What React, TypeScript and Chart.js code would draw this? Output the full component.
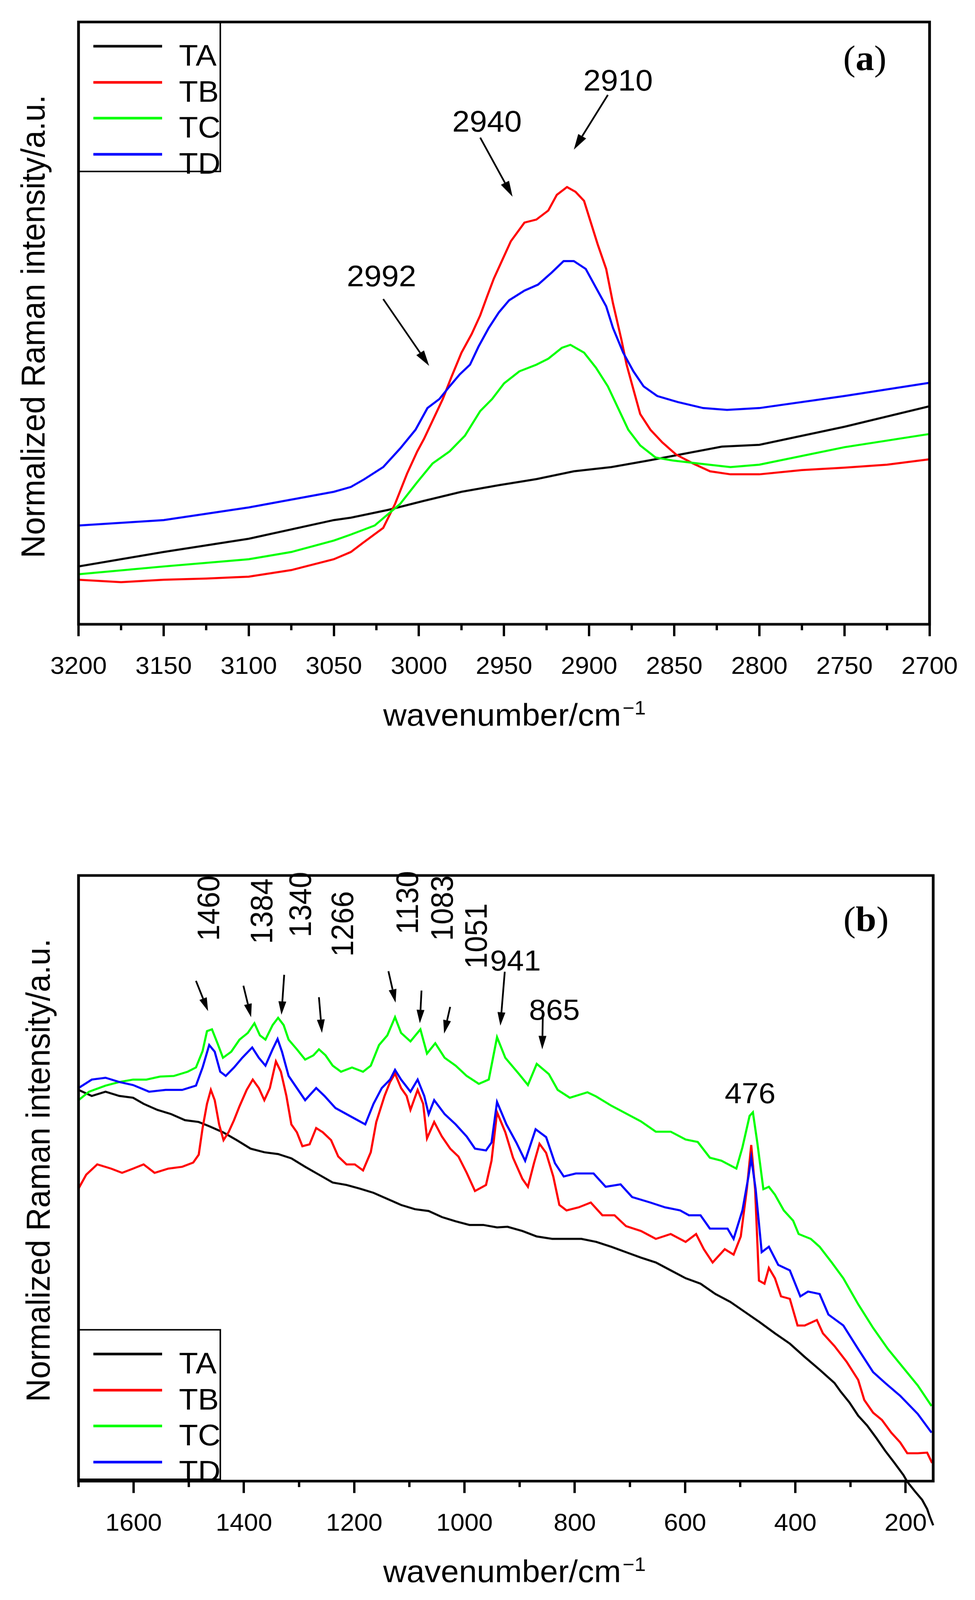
import { useEffect, useRef, useState } from "react"
import Chart from "chart.js/auto"

// ── Theme ───────────────────────────────────────────────────
const SANS  = "'Liberation Sans', Arial, sans-serif"
const SERIF = "'Liberation Serif', 'Times New Roman', serif"
const INK   = "#000000"
const RED   = "#ff0000"
const GREEN = "#00ff00"
const BLUE  = "#0000ff"

const PAGE_W = 2496
const PAGE_H = 4293
const TOP_H  = 2146
const BOT_H  = PAGE_H - TOP_H

const SERIES = ["TA", "TB", "TC", "TD"]
const COLORS = [INK, RED, GREEN, BLUE]

// ── Panel (a) · 3200–2700 cm-1 ──────────────────────────────
const A_TICKS = [3200, 3150, 3100, 3050, 3000, 2950, 2900, 2850, 2800, 2750, 2700]
const A_MINOR = [3175, 3125, 3075, 3025, 2975, 2925, 2875, 2825, 2775, 2725]

const A_TA_X = [3200, 3150, 3100, 3050, 3040, 3018, 2997, 2975, 2953, 2931, 2909, 2887, 2865, 2850, 2822, 2800, 2750, 2700]
const A_TA_Y = [9.6, 12.0, 14.2, 17.3, 17.7, 19.0, 20.5, 22.0, 23.1, 24.1, 25.4, 26.1, 27.2, 28.0, 29.5, 29.8, 32.8, 36.2]

const A_TB_X = [3200, 3175, 3150, 3125, 3100, 3075, 3050, 3040, 3033, 3021, 3014, 3007, 3001, 2997, 2992, 2986, 2981, 2975, 2969, 2964, 2960, 2956, 2951, 2946, 2938, 2931, 2924, 2919, 2913, 2908, 2903, 2899, 2895, 2890, 2886, 2881, 2878, 2874, 2870, 2864, 2857, 2849, 2839, 2829, 2817, 2800, 2775, 2750, 2725, 2700]
const A_TB_Y = [7.4, 7.0, 7.4, 7.6, 7.9, 9.0, 10.8, 12.0, 13.5, 16.0, 20.0, 25.0, 28.7, 30.8, 33.8, 37.4, 41.0, 45.1, 48.2, 51.3, 54.4, 57.4, 60.5, 63.6, 66.7, 67.2, 68.7, 71.3, 72.6, 71.8, 70.3, 66.7, 63.1, 59.0, 53.3, 47.2, 43.1, 39.0, 34.9, 32.3, 30.2, 28.2, 26.7, 25.4, 24.9, 24.9, 25.6, 26.0, 26.5, 27.4]

const A_TC_X = [3200, 3150, 3100, 3075, 3050, 3040, 3026, 3011, 3001, 2992, 2982, 2973, 2964, 2957, 2950, 2941, 2931, 2924, 2916, 2911, 2903, 2896, 2889, 2883, 2877, 2870, 2861, 2851, 2836, 2817, 2800, 2750, 2700]
const A_TC_Y = [8.3, 9.6, 10.8, 12.0, 13.9, 14.9, 16.4, 20.0, 23.6, 26.7, 28.7, 31.3, 35.4, 37.4, 40.0, 42.0, 43.1, 44.1, 45.9, 46.4, 45.1, 42.6, 39.5, 35.9, 32.3, 29.7, 27.7, 27.2, 26.7, 26.1, 26.5, 29.4, 31.6]

const A_TD_X = [3200, 3150, 3100, 3050, 3040, 3032, 3021, 3011, 3002, 2995, 2988, 2982, 2976, 2970, 2965, 2959, 2953, 2947, 2938, 2930, 2922, 2915, 2909, 2902, 2896, 2890, 2886, 2880, 2874, 2868, 2860, 2848, 2833, 2819, 2800, 2750, 2700]
const A_TD_Y = [16.4, 17.3, 19.4, 22.0, 22.8, 24.1, 26.1, 29.2, 32.3, 35.9, 37.4, 39.5, 41.5, 43.1, 46.1, 49.2, 51.8, 53.8, 55.4, 56.4, 58.4, 60.3, 60.3, 59.0, 55.9, 52.8, 49.2, 45.1, 42.0, 39.5, 37.9, 36.9, 35.9, 35.6, 35.9, 37.9, 40.1]

const A_NOTES   = ["2910", "2940", "2992"]
const A_NOTE_X  = [2883, 2960, 3022]
const A_NOTE_Y  = [88.6, 81.8, 56.1]
const A_FROM_X  = [2889, 2964, 3021]
const A_FROM_Y  = [87.9, 80.8, 54.0]
const A_TO_X    = [2909, 2945, 2994]
const A_TO_Y    = [78.8, 71.0, 42.9]

// ── Panel (b) · 1700–150 cm-1 ───────────────────────────────
const B_TICKS = [1600, 1400, 1200, 1000, 800, 600, 400, 200]
const B_MINOR = [1700, 1500, 1300, 1100, 900, 700, 500, 300]

const B_TA_X = [1700, 1676, 1651, 1626, 1601, 1582, 1557, 1532, 1507, 1482, 1463, 1438, 1413, 1388, 1363, 1338, 1314, 1289, 1264, 1239, 1214, 1190, 1165, 1140, 1115, 1090, 1065, 1041, 1016, 991, 966, 941, 922, 895, 869, 841, 815, 788, 761, 734, 707, 680, 653, 626, 599, 572, 545, 518, 491, 464, 437, 410, 383, 356, 329, 318, 302, 286, 270, 253, 237, 221, 204, 197, 183, 170, 161, 156, 150]
const B_TA_Y = [64.6, 63.6, 64.3, 63.6, 63.3, 62.3, 61.3, 60.6, 59.6, 59.3, 58.6, 57.6, 56.3, 54.9, 54.3, 54.0, 53.3, 51.9, 50.6, 49.3, 48.9, 48.3, 47.6, 46.6, 45.6, 44.9, 44.6, 43.6, 42.9, 42.3, 42.3, 41.9, 42.0, 41.3, 40.4, 40.0, 40.0, 40.0, 39.5, 38.7, 37.8, 36.9, 36.1, 34.8, 33.5, 32.6, 30.9, 29.6, 27.9, 26.2, 24.4, 22.7, 20.5, 18.4, 16.2, 14.8, 13.0, 10.8, 9.2, 7.1, 5.0, 3.1, 1.0, -0.1, -1.7, -3.1, -4.6, -5.9, -7.3]

const B_TB_X = [1700, 1686, 1666, 1641, 1621, 1601, 1582, 1562, 1537, 1512, 1492, 1482, 1475, 1467, 1460, 1453, 1445, 1437, 1428, 1418, 1408, 1395, 1384, 1373, 1363, 1353, 1342, 1333, 1323, 1314, 1304, 1294, 1281, 1269, 1257, 1242, 1229, 1214, 1199, 1184, 1170, 1160, 1145, 1135, 1126, 1115, 1105, 1098, 1085, 1075, 1068, 1055, 1041, 1026, 1011, 996, 981, 961, 951, 941, 926, 912, 895, 885, 874, 864, 852, 839, 828, 815, 793, 771, 750, 728, 707, 680, 653, 626, 599, 580, 566, 550, 528, 512, 499, 488, 480, 473, 466, 456, 448, 437, 426, 410, 396, 383, 361, 350, 329, 307, 286, 275, 259, 243, 226, 210, 197, 178, 161, 152]
const B_TB_Y = [48.3, 50.6, 52.3, 51.6, 50.9, 51.6, 52.3, 50.9, 51.6, 51.9, 52.6, 53.9, 58.3, 62.3, 64.6, 62.9, 58.9, 56.3, 57.6, 59.6, 61.9, 64.6, 66.3, 64.9, 62.9, 64.9, 69.3, 67.6, 63.6, 58.9, 57.6, 55.3, 55.6, 58.3, 57.6, 56.3, 53.6, 52.3, 52.3, 51.3, 54.3, 59.3, 63.6, 65.9, 67.3, 64.9, 63.6, 61.3, 64.6, 62.3, 56.6, 59.3, 56.9, 54.9, 53.6, 50.9, 47.9, 48.9, 52.9, 60.9, 57.6, 53.4, 49.9, 48.6, 52.5, 55.7, 54.2, 50.3, 45.6, 44.7, 45.2, 46.0, 43.9, 43.9, 42.1, 41.3, 40.0, 40.8, 39.5, 40.8, 38.3, 36.1, 38.3, 37.4, 40.4, 48.2, 55.5, 48.2, 33.1, 32.6, 35.2, 33.5, 30.5, 30.1, 25.7, 25.7, 26.6, 24.4, 22.3, 19.7, 16.7, 13.4, 11.3, 10.1, 8.0, 6.4, 4.6, 4.6, 4.7, 3.0]

const B_TC_X = [1700, 1681, 1651, 1626, 1601, 1577, 1552, 1527, 1502, 1487, 1475, 1467, 1458, 1448, 1438, 1423, 1408, 1393, 1381, 1371, 1361, 1348, 1338, 1328, 1319, 1304, 1289, 1274, 1264, 1252, 1239, 1224, 1204, 1184, 1170, 1155, 1140, 1126, 1115, 1098, 1080, 1068, 1053, 1036, 1016, 996, 974, 956, 941, 926, 901, 885, 869, 847, 831, 809, 777, 761, 734, 707, 680, 653, 626, 599, 577, 555, 534, 507, 496, 483, 477, 469, 458, 448, 437, 421, 404, 394, 372, 356, 334, 313, 286, 259, 232, 205, 178, 153]
const B_TC_Y = [62.9, 64.3, 65.3, 65.9, 66.3, 66.3, 66.8, 66.9, 67.6, 68.3, 71.0, 74.3, 74.6, 72.3, 69.9, 70.9, 72.9, 74.0, 75.6, 73.6, 72.9, 75.3, 76.5, 75.3, 72.9, 71.3, 69.6, 70.3, 71.3, 70.3, 68.6, 67.6, 68.3, 67.6, 68.6, 72.0, 73.6, 76.6, 74.0, 72.6, 74.6, 70.6, 72.3, 69.9, 68.6, 66.9, 65.6, 66.3, 73.3, 69.9, 67.2, 65.4, 68.9, 67.2, 64.6, 63.3, 64.2, 63.5, 62.0, 60.7, 59.4, 57.7, 57.7, 56.4, 56.0, 53.4, 52.9, 51.6, 55.1, 60.3, 60.9, 55.9, 48.2, 48.6, 47.3, 44.7, 43.0, 40.8, 40.0, 38.7, 36.1, 33.5, 29.2, 25.3, 21.8, 18.8, 15.8, 12.4]

const B_TD_X = [1700, 1676, 1651, 1626, 1601, 1572, 1542, 1512, 1487, 1475, 1463, 1453, 1443, 1433, 1418, 1403, 1385, 1373, 1361, 1348, 1339, 1331, 1319, 1304, 1289, 1269, 1254, 1234, 1214, 1194, 1180, 1165, 1150, 1135, 1126, 1115, 1098, 1085, 1073, 1065, 1055, 1036, 1016, 996, 981, 961, 951, 941, 924, 906, 890, 871, 852, 836, 820, 798, 766, 744, 717, 696, 663, 636, 609, 593, 572, 555, 523, 512, 496, 485, 480, 472, 461, 448, 431, 410, 391, 377, 356, 340, 313, 286, 259, 237, 210, 178, 153]
const B_TD_Y = [64.9, 66.3, 66.6, 65.9, 65.4, 64.3, 64.6, 64.6, 65.3, 68.3, 72.0, 70.9, 67.6, 66.9, 68.3, 69.9, 71.6, 69.9, 68.6, 71.3, 73.0, 70.9, 66.9, 64.9, 62.9, 64.9, 63.6, 61.6, 60.6, 59.6, 58.9, 62.3, 64.9, 66.3, 67.9, 66.3, 64.3, 66.3, 63.6, 60.6, 62.9, 60.6, 58.9, 56.9, 54.9, 54.6, 55.9, 62.6, 58.9, 55.9, 52.9, 58.1, 56.8, 52.5, 50.3, 50.8, 50.8, 48.6, 49.0, 46.9, 46.0, 45.2, 44.7, 43.9, 43.9, 41.7, 41.7, 40.0, 44.7, 50.3, 53.4, 48.2, 37.8, 38.7, 35.7, 34.8, 30.5, 31.3, 30.9, 27.5, 25.7, 21.8, 18.0, 16.2, 14.1, 11.1, 8.0]

// peak labels: rotated ones read bottom-to-top, the rest horizontal
const B_ROT   = ["1460", "1384", "1340", "1266", "1130", "1083", "1051"]
const B_ROT_X = [1460.2, 1364.0, 1293.9, 1217.5, 1100.1, 1037.1, 974.9]
const B_ROT_Y = [89.2, 88.7, 89.8, 86.6, 90.3, 89.2, 84.6]
const B_NOTES  = ["941", "865", "476"]
const B_NOTE_X = [907.6, 836.9, 482]
const B_NOTE_Y = [84.3, 76.2, 62.4]
const B_FROM_X = [1487, 1401, 1327, 1264, 1138, 1078, 1026, 927, 858]
const B_FROM_Y = [82.6, 81.8, 83.6, 79.9, 84.2, 81.0, 78.3, 84.1, 76.7]
const B_TO_X   = [1465, 1387, 1332, 1258.5, 1125, 1081, 1037, 935, 859]
const B_TO_Y   = [77.6, 76.6, 77.0, 74.0, 79.0, 75.6, 73.9, 75.2, 71.3]

type Deco = {
  minor: number[]
  notes: string[]; noteX: number[]; noteY: number[]; noteSize: number; rotSize: number
  rot: string[]; rotX: number[]; rotY: number[]
  fromX: number[]; fromY: number[]; toX: number[]; toY: number[]
  head: number
  legendTop: number
  tag: string; tagX: number; tagBase: number
  yTitleX: number; yTitleY: number; xTitleBase: number; xTitleX: number
}

function drawArrow(ctx: CanvasRenderingContext2D, x1: number, y1: number, x2: number, y2: number, head: number) {
  const ang = Math.atan2(y2 - y1, x2 - x1)
  const bx = x2 - Math.cos(ang) * head
  const by = y2 - Math.sin(ang) * head
  ctx.beginPath()
  ctx.moveTo(x1, y1)
  ctx.lineTo(bx, by)
  ctx.stroke()
  const w = head * 0.28
  ctx.beginPath()
  ctx.moveTo(x2, y2)
  ctx.lineTo(bx + Math.sin(ang) * w, by - Math.cos(ang) * w)
  ctx.lineTo(bx - Math.sin(ang) * w, by + Math.cos(ang) * w)
  ctx.closePath()
  ctx.fill()
}

// frame, minor ticks, legend, titles and peak labels
function decorPlugin(d: Deco) {
  return {
    id: "decor",
    afterDraw(chart: any) {
      const { ctx, chartArea: a, scales } = chart
      const sx = scales.x, sy = scales.y
      ctx.save()
      ctx.fillStyle = INK
      ctx.strokeStyle = INK

      // box frame
      ctx.lineWidth = 7
      ctx.strokeRect(a.left, a.top, a.right - a.left, a.bottom - a.top)

      // minor ticks
      ctx.lineWidth = 6
      for (const v of d.minor) {
        const px = sx.getPixelForValue(v)
        ctx.beginPath()
        ctx.moveTo(px, a.bottom)
        ctx.lineTo(px, a.bottom + 16)
        ctx.stroke()
      }

      // legend
      const lt = d.legendTop
      ctx.lineWidth = 4
      ctx.strokeRect(a.left, lt, 564 - a.left, 401)
      const rows = [65, 162, 258, 355]
      ctx.font = `80px ${SANS}`
      ctx.textAlign = "left"
      ctx.textBaseline = "alphabetic"
      SERIES.forEach((s, i) => {
        const ry = lt + rows[i]
        ctx.strokeStyle = COLORS[i]
        ctx.lineWidth = 7
        ctx.beginPath()
        ctx.moveTo(239, ry)
        ctx.lineTo(415, ry)
        ctx.stroke()
        ctx.fillText(s, 458, ry + 52)
      })
      ctx.strokeStyle = INK

      // arrows
      ctx.lineWidth = 4.5
      d.fromX.forEach((_, i) => {
        drawArrow(ctx,
          sx.getPixelForValue(d.fromX[i]), sy.getPixelForValue(d.fromY[i]),
          sx.getPixelForValue(d.toX[i]), sy.getPixelForValue(d.toY[i]), d.head)
      })

      // horizontal peak labels
      ctx.font = `${d.noteSize}px ${SANS}`
      ctx.textAlign = "center"
      ctx.textBaseline = "alphabetic"
      d.notes.forEach((t, i) => {
        ctx.fillText(t, sx.getPixelForValue(d.noteX[i]), sy.getPixelForValue(d.noteY[i]))
      })

      // rotated peak labels
      ctx.font = `${d.rotSize}px ${SANS}`
      ctx.textAlign = "left"
      ctx.textBaseline = "middle"
      d.rot.forEach((t, i) => {
        ctx.save()
        ctx.translate(sx.getPixelForValue(d.rotX[i]), sy.getPixelForValue(d.rotY[i]))
        ctx.rotate(-Math.PI / 2)
        ctx.fillText(t, 0, 0)
        ctx.restore()
      })

      // panel tag "(a)" / "(b)"
      const reg = `95px ${SERIF}`
      const bold = `bold 95px ${SERIF}`
      ctx.textAlign = "left"
      ctx.textBaseline = "alphabetic"
      ctx.font = reg
      const wp = ctx.measureText("(").width
      const wq = ctx.measureText(")").width
      ctx.font = bold
      const wb = ctx.measureText(d.tag).width
      let tx = d.tagX - (wp + wb + wq) / 2
      ctx.font = reg; ctx.fillText("(", tx, d.tagBase); tx += wp
      ctx.font = bold; ctx.fillText(d.tag, tx, d.tagBase); tx += wb
      ctx.font = reg; ctx.fillText(")", tx, d.tagBase)

      // x title with superscript
      const main = "wavenumber/cm"
      const sup = "\u22121"
      ctx.font = `83px ${SANS}`
      const w1 = ctx.measureText(main).width
      ctx.font = `52px ${SANS}`
      const w2 = ctx.measureText(sup).width
      const x0 = d.xTitleX - (w1 + w2 + 4) / 2
      ctx.font = `83px ${SANS}`
      ctx.fillText(main, x0, d.xTitleBase)
      ctx.font = `52px ${SANS}`
      ctx.fillText(sup, x0 + w1 + 4, d.xTitleBase - 30)

      // y title
      ctx.save()
      ctx.translate(d.yTitleX, d.yTitleY)
      ctx.rotate(-Math.PI / 2)
      ctx.font = `86px ${SANS}`
      ctx.textAlign = "center"
      ctx.textBaseline = "middle"
      ctx.fillText("Normalized Raman intensity/a.u.", 0, 0)
      ctx.restore()

      ctx.restore()
    },
  }
}

function line(i: number, xs: number[], ys: number[], noClip = false) {
  return {
    label: SERIES[i],
    data: xs.map((x, k) => ({ x, y: ys[k] })),
    borderColor: COLORS[i],
    backgroundColor: COLORS[i],
    borderWidth: 5.5,
    pointRadius: 0,
    tension: 0,
    fill: false,
    order: 3 - i,
    ...(noClip ? { clip: false } : {}),
  }
}

function panelConfig(opts: {
  datasets: any[]; min: number; max: number; ticks: number[]
  padTop: number; axisH: number; deco: Deco
}) {
  return {
    type: "line" as const,
    data: { datasets: opts.datasets },
    options: {
      animation: false as const,
      responsive: false,
      devicePixelRatio: 1,
      events: [],
      layout: { padding: { left: 201, right: 107, top: opts.padTop, bottom: 0 } },
      plugins: { legend: { display: false }, tooltip: { enabled: false } },
      scales: {
        x: {
          type: "linear" as const,
          reverse: true,
          min: opts.min,
          max: opts.max,
          afterBuildTicks: (s: any) => { s.ticks = opts.ticks.map(v => ({ value: v })) },
          afterFit: (s: any) => { s.height = opts.axisH },
          ticks: {
            color: INK,
            font: { family: SANS, size: 65 },
            padding: 44,
            maxRotation: 0,
            autoSkip: false,
            callback: (v: any) => String(v),
          },
          grid: {
            display: true,
            drawOnChartArea: false,
            drawTicks: true,
            tickLength: 32,
            tickWidth: 6,
            lineWidth: 6,
            tickColor: INK,
            color: INK,
          },
          border: { display: false },
        },
        y: { display: false, min: 0, max: 100 },
      },
    },
    plugins: [decorPlugin(opts.deco)],
  }
}

function Panel({ height, build }: { height: number; build: () => any }) {
  const ref = useRef<HTMLCanvasElement>(null)
  useEffect(() => {
    if (!ref.current) return
    const chart = new Chart(ref.current, build())
    return () => chart.destroy()
  }, [])
  return <canvas ref={ref} width={PAGE_W} height={height} style={{ display: "block" }} />
}

const buildA = () => panelConfig({
  datasets: [
    line(0, A_TA_X, A_TA_Y),
    line(1, A_TB_X, A_TB_Y),
    line(2, A_TC_X, A_TC_Y),
    line(3, A_TD_X, A_TD_Y),
  ],
  min: 2700, max: 3200, ticks: A_TICKS,
  padTop: 59, axisH: TOP_H - 1675,
  deco: {
    minor: A_MINOR,
    notes: A_NOTES, noteX: A_NOTE_X, noteY: A_NOTE_Y, noteSize: 80, rotSize: 80,
    rot: [], rotX: [], rotY: [],
    fromX: A_FROM_X, fromY: A_FROM_Y, toX: A_TO_X, toY: A_TO_Y,
    head: 42,
    legendTop: 59,
    tag: "a", tagX: 2214, tagBase: 188,
    yTitleX: 90, yTitleY: 876, xTitleBase: 1947, xTitleX: 1317,
  },
})

const buildB = () => panelConfig({
  datasets: [
    line(0, B_TA_X, B_TA_Y, true),
    line(1, B_TB_X, B_TB_Y),
    line(2, B_TC_X, B_TC_Y),
    line(3, B_TD_X, B_TD_Y),
  ],
  min: 150, max: 1700, ticks: B_TICKS,
  padTop: 2349 - TOP_H, axisH: BOT_H - (3974 - TOP_H),
  deco: {
    minor: B_MINOR,
    notes: B_NOTES, noteX: B_NOTE_X, noteY: B_NOTE_Y, noteSize: 78, rotSize: 79,
    rot: B_ROT, rotX: B_ROT_X, rotY: B_ROT_Y,
    fromX: B_FROM_X, fromY: B_FROM_Y, toX: B_TO_X, toY: B_TO_Y,
    head: 36,
    legendTop: 3568 - TOP_H,
    tag: "b", tagX: 2217, tagBase: 2498 - TOP_H,
    yTitleX: 103, yTitleY: 3140 - TOP_H, xTitleBase: 4245 - TOP_H, xTitleX: 1317,
  },
})

export default function App() {
  // the page viewport can be shorter than the figure: squeeze it vertically to fit
  const [fit, setFit] = useState(1)
  useEffect(() => {
    document.body.style.margin = "0"
    document.body.style.overflow = "hidden"
    document.documentElement.style.overflow = "hidden"
    const h = window.innerHeight
    if (h > 0 && h < PAGE_H) setFit(h / PAGE_H)
  }, [])
  return (
    <div style={{
      position: "absolute", left: 0, top: 0, width: PAGE_W, height: PAGE_H,
      background: "#fff", transform: `scale(1, ${fit})`, transformOrigin: "0 0",
    }}>
      <Panel height={TOP_H} build={buildA} />
      <Panel height={BOT_H} build={buildB} />
    </div>
  )
}
